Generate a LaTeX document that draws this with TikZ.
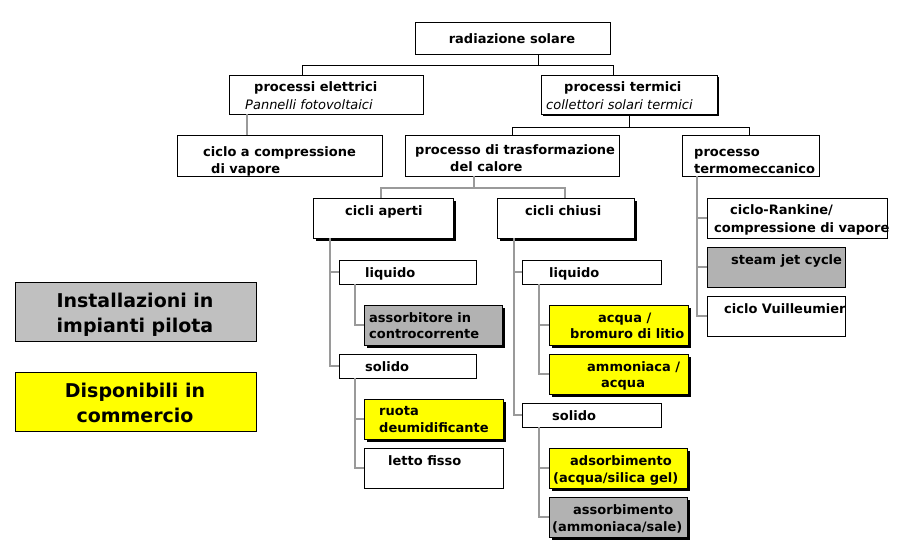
\documentclass[tikz,border=0pt]{standalone}
\usepackage{fontspec}
\setmainfont{DejaVu Sans}
\usetikzlibrary{shadows,calc}
\definecolor{pilot}{HTML}{B2B2B2}
\definecolor{legendgray}{HTML}{C0C0C0}
\definecolor{comm}{HTML}{FFFF00}
\definecolor{conn}{HTML}{9A9A9A}
\begin{document}
\begin{tikzpicture}[x=1pt,y=-1pt,
  box/.style={draw=black, line width=1pt, fill=white, anchor=north west, inner sep=0pt, outer sep=0pt},
  sh/.style={drop shadow={shadow xshift=3pt, shadow yshift=-3pt, opacity=1, fill=black}},
  shs/.style={drop shadow={shadow xshift=2pt, shadow yshift=-2pt, opacity=1, fill=black}},
  txt/.style={anchor=base west, inner sep=0pt, font=\bfseries\fontsize{13}{16}\selectfont},
  itx/.style={anchor=base west, inner sep=0pt, font=\itshape\fontsize{13}{16}\selectfont},
  lgt/.style={anchor=base, inner sep=0pt, font=\bfseries\fontsize{19}{24}\selectfont},
  topc/.style={draw=black, line width=1pt},
  conn/.style={draw=conn, line width=1.5pt},
]
\fill[white] (0,0) rectangle (906,560);
\useasboundingbox (0,0) rectangle (906,560);

% boxes
\node[box, minimum width=195pt, minimum height=32pt] (rad) at (415,22) {};
\node[box, minimum width=194pt, minimum height=39pt] (el) at (229,75) {};
\node[box, shs, minimum width=176pt, minimum height=39pt] (ter) at (541,75) {};
\node[box, minimum width=205pt, minimum height=41pt] (cic) at (177,135) {};
\node[box, minimum width=214pt, minimum height=41pt] (tra) at (405,135) {};
\node[box, minimum width=137pt, minimum height=41pt] (tme) at (682,135) {};
\node[box, sh, minimum width=140pt, minimum height=40pt] (cap) at (313,198) {};
\node[box, sh, minimum width=137pt, minimum height=40pt] (cch) at (497,198) {};
\node[box, minimum width=137pt, minimum height=24pt] (liqA) at (339,260) {};
\node[box, sh, fill=pilot, minimum width=138pt, minimum height=40pt] (ass) at (364,305) {};
\node[box, minimum width=137pt, minimum height=24pt] (solA) at (339,354) {};
\node[box, sh, fill=comm, minimum width=139pt, minimum height=40pt] (ruo) at (364,399) {};
\node[box, minimum width=139pt, minimum height=40pt] (let) at (364,448) {};
\node[box, minimum width=139pt, minimum height=24pt] (liqC) at (522,260) {};
\node[box, sh, fill=comm, minimum width=139pt, minimum height=40pt] (acq) at (549,305) {};
\node[box, sh, fill=comm, minimum width=139pt, minimum height=40pt] (amm) at (549,354) {};
\node[box, minimum width=139pt, minimum height=24pt] (solC) at (522,403) {};
\node[box, sh, fill=comm, minimum width=138pt, minimum height=40pt] (ads) at (549,448) {};
\node[box, sh, fill=pilot, minimum width=138pt, minimum height=40pt] (asm) at (549,497) {};
\node[box, minimum width=180pt, minimum height=40pt] (ran) at (707,198) {};
\node[box, fill=pilot, minimum width=138pt, minimum height=40pt] (stj) at (707,247) {};
\node[box, minimum width=138pt, minimum height=40pt] (vui) at (707,296) {};
\node[box, fill=legendgray, minimum width=241pt, minimum height=59pt] (leg1) at (15,282) {};
\node[box, fill=comm, minimum width=241pt, minimum height=59pt] (leg2) at (15,372) {};

% texts
\node[txt, anchor=base] (t-rad) at (512,43) {radiazione solare};
\node[txt] (t-el1) at (254,91) {processi elettrici};
\node[itx] (t-el2) at (245,109) {Pannelli fotovoltaici};
\node[txt] (t-ter1) at (564,91) {processi termici};
\node[itx] (t-ter2) at (546,109) {collettori solari termici};
\node[txt] (t-cic1) at (203,156) {ciclo a compressione};
\node[txt] (t-cic2) at (211,173) {di vapore};
\node[txt] (t-tra1) at (415,154) {processo di trasformazione};
\node[txt] (t-tra2) at (450,171) {del calore};
\node[txt] (t-tme1) at (694,156) {processo};
\node[txt] (t-tme2) at (694,173) {termomeccanico};
\node[txt] (t-cap) at (345,215) {cicli aperti};
\node[txt] (t-cch) at (525,215) {cicli chiusi};
\node[txt] (t-liqA) at (365,277) {liquido};
\node[txt] (t-ass1) at (369,322) {assorbitore in};
\node[txt] (t-ass2) at (369,338) {controcorrente};
\node[txt] (t-solA) at (365,371) {solido};
\node[txt] (t-ruo1) at (379,415) {ruota};
\node[txt] (t-ruo2) at (379,432) {deumidificante};
\node[txt] (t-let) at (388,465) {letto fisso};
\node[txt] (t-liqC) at (549,277) {liquido};
\node[txt] (t-acq1) at (598,322) {acqua /};
\node[txt] (t-acq2) at (570,338) {bromuro di litio};
\node[txt] (t-amm1) at (587,371) {ammoniaca /};
\node[txt] (t-amm2) at (601,387) {acqua};
\node[txt] (t-solC) at (552,420) {solido};
\node[txt] (t-ads1) at (570,465) {adsorbimento};
\node[txt] (t-ads2) at (553,482) {(acqua/silica gel)};
\node[txt] (t-asm1) at (573,514) {assorbimento};
\node[txt] (t-asm2) at (552,531) {(ammoniaca/sale)};
\node[txt] (t-ran1) at (730,214) {ciclo-Rankine/};
\node[txt] (t-ran2) at (714,232) {compressione di vapore};
\node[txt] (t-stj) at (731,264) {steam jet cycle};
\node[txt] (t-vui) at (724,313) {ciclo Vuilleumier};
\node[lgt] (t-lg1a) at (135,307) {Installazioni in};
\node[lgt] (t-lg1b) at (135,332) {impianti pilota};
\node[lgt] (t-lg2a) at (135,397) {Disponibili in};
\node[lgt] (t-lg2b) at (135,422) {commercio};

% connectors
\coordinate (s0) at ($(rad.south west)+(123,0)$);
\coordinate (h0) at ($(s0)+(0,11)$);
\draw[topc] (s0) -- (h0) -| ($(el.north west)+(73,0)$);
\draw[topc] (h0) -| ($(ter.north west)+(72,0)$);

\coordinate (s1) at ($(el.south west)+(18,0)$);
\draw[conn] (s1) -- (s1 |- cic.north);

\coordinate (s2) at ($(ter.south west)+(88,0)$);
\coordinate (h2) at ($(s2)+(0,13)$);
\draw[topc] (s2) -- (h2) -| ($(tra.north west)+(107,0)$);
\draw[topc] (h2) -| ($(tme.north west)+(67,0)$);

\coordinate (s3) at ($(tra.south west)+(69,0)$);
\coordinate (h3) at ($(s3)+(0,12)$);
\draw[conn] (s3) -- (h3) -| ($(cap.north west)+(68,0)$);
\draw[conn] (h3) -| ($(cch.north west)+(68,0)$);

\coordinate (s4) at ($(tme.south west)+(15,0)$);
\draw[conn] (s4) |- (vui.west);
\draw[conn] (s4 |- ran.west) -- (ran.west);
\draw[conn] (s4 |- stj.west) -- (stj.west);

\coordinate (s5) at ($(cap.south west)+(17,0)$);
\draw[conn] (s5) |- (solA.west);
\draw[conn] (s5 |- liqA.west) -- (liqA.west);

\coordinate (s6) at ($(liqA.south west)+(16,0)$);
\draw[conn] (s6) |- (ass.west);

\coordinate (s7) at ($(solA.south west)+(16,0)$);
\draw[conn] (s7) |- (let.west);
\draw[conn] (s7 |- ruo.west) -- (ruo.west);

\coordinate (s8) at ($(cch.south west)+(17,0)$);
\draw[conn] (s8) |- (solC.west);
\draw[conn] (s8 |- liqC.west) -- (liqC.west);

\coordinate (s9) at ($(liqC.south west)+(17,0)$);
\draw[conn] (s9) |- (amm.west);
\draw[conn] (s9 |- acq.west) -- (acq.west);

\coordinate (s10) at ($(solC.south west)+(17,0)$);
\draw[conn] (s10) |- (asm.west);
\draw[conn] (s10 |- ads.west) -- (ads.west);
\end{tikzpicture}
\end{document}
